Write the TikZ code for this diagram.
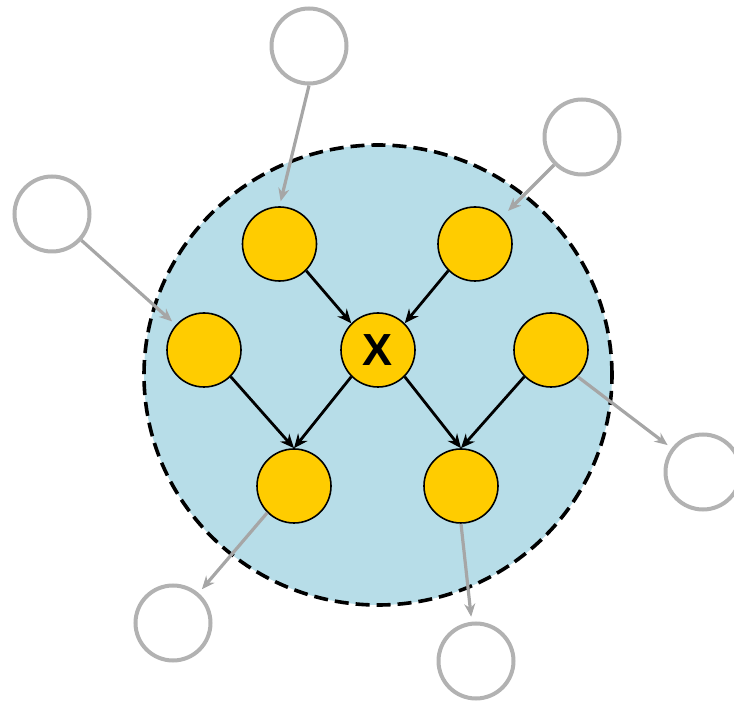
\documentclass[tikz,border=0pt]{standalone}
\usepackage{fontspec}
\setmainfont{Liberation Sans}
\usetikzlibrary{arrows.meta}
\definecolor{blanket}{RGB}{183,221,232}
\definecolor{nodeyellow}{RGB}{255,204,0}

\begin{document}
\begin{tikzpicture}[x=1pt,y=1pt,
	inner/.style={draw=black,line width=1.6pt,fill=nodeyellow,shape=circle,minimum size=74pt,inner sep=0pt},
	outer/.style={draw=gray!60,line width=4pt,fill=white,shape=circle,minimum size=75pt,inner sep=0pt},
	link/.style={-{Stealth[length=14pt,width=12pt]},line width=2.8pt},
	ext/.style={-{Stealth[length=13pt,width=11pt]},line width=3.2pt,draw=gray!70,shorten >=5pt}]
\useasboundingbox (0,0) rectangle (734,702);
\draw[fill=blanket,line width=3.6pt,dash pattern=on 14pt off 7pt] (378,327) ellipse [x radius=234,y radius=230];
% inside the blanket
\node[inner] (tl) at (279.5,458) {};
\node[inner] (tr) at (475,458) {};
\node[inner] (l) at (204,352) {};
\node[inner,font=\fontsize{45}{45}\selectfont\bfseries] (x) at (378,352) {X};
\node[inner] (r) at (551,352) {};
\node[inner] (bl) at (294,216) {};
\node[inner] (br) at (461,216) {};
% outside
\node[outer] (ot) at (309,656) {};
\node[outer] (otr) at (582,565) {};
\node[outer] (ol) at (52,488) {};
\node[outer] (or) at (703,230) {};
\node[outer] (obl) at (173,79) {};
\node[outer] (ob) at (476,41) {};
\draw[link] (tl.-45) -- (x.135);
\draw[link] (tr.225) -- (x.45);
\draw[link] (x.225) -- (bl.north);
\draw[link] (l.-45) -- (bl.north);
\draw[link] (x.-45) -- (br.north);
\draw[link] (r.225) -- (br.north);
\draw[ext] (ot.south) -- (tl.north);
\draw[ext,shorten >=9pt] (otr) -- (tr);
\draw[ext] (ol) -- (l);
\draw[ext] (r.-45) -- (or);
\draw[ext] (bl.225) -- (obl);
\draw[ext] (br.south) -- (ob);
\end{tikzpicture}
\end{document}
